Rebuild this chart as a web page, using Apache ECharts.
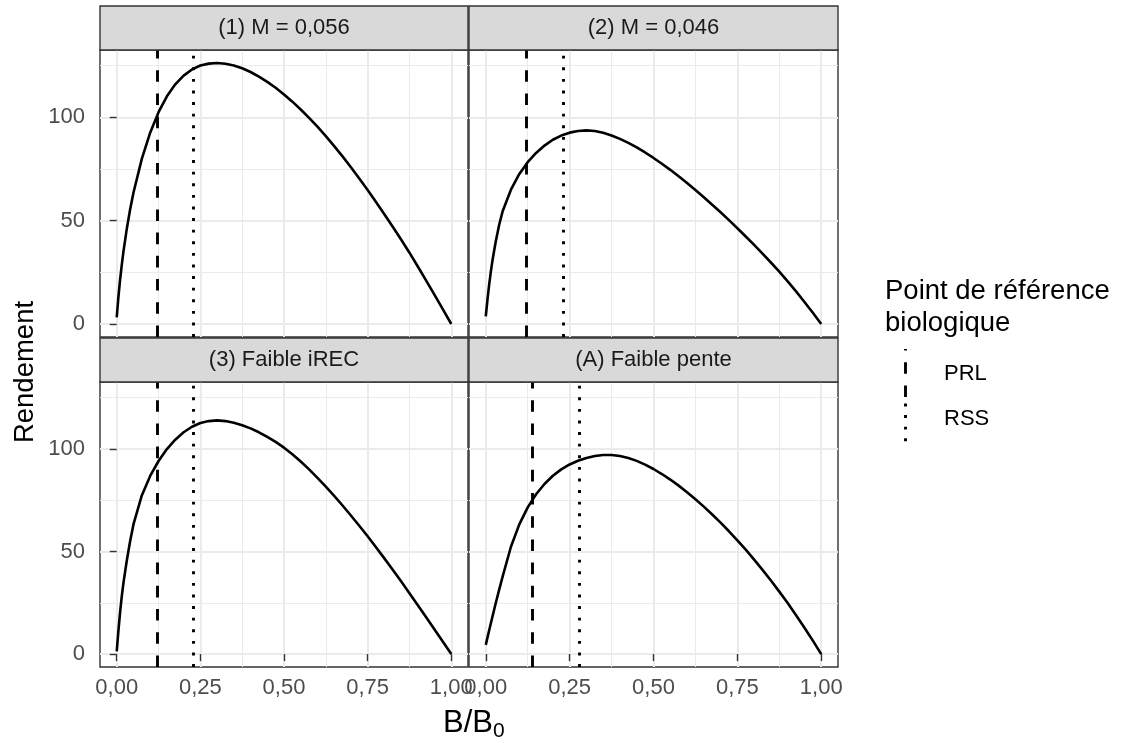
<!DOCTYPE html>
<html>
<head>
<meta charset="utf-8">
<script src="https://cdn.jsdelivr.net/npm/echarts@6/dist/echarts.min.js"></script>
<style>
  html, body { margin: 0; padding: 0; background: #ffffff; }
  #chart { width: 1130px; height: 744px; }
</style>
</head>
<body>
<div id="chart"></div>
<script>
// Facet titles, one per panel
const panelTitles = ['(1) M = 0,056', '(2) M = 0,046', '(3) Faible iREC', '(A) Faible pente'];

// Relative biomass B/B0 at which the yield curves are sampled
const depletion = [0, 0.005, 0.01, 0.015, 0.02, 0.03, 0.04, 0.05, 0.075, 0.1, 0.125, 0.15, 0.175, 0.2,
  0.225, 0.25, 0.275, 0.3, 0.325, 0.35, 0.375, 0.4, 0.425, 0.45, 0.475, 0.5, 0.525, 0.55, 0.575, 0.6,
  0.625, 0.65, 0.675, 0.7, 0.725, 0.75, 0.775, 0.8, 0.825, 0.85, 0.875, 0.9, 0.925, 0.95, 0.975, 1.0];

// Yield (Rendement) per panel
const yieldM056 = [3.2, 13, 21.3, 28.5, 34.9, 46, 55.4, 63.5, 79.9, 92.6, 102.5, 110.2, 116, 120.2,
  123.2, 125.1, 126.0, 126.3, 125.95, 125.1, 123.75, 121.95, 119.75, 117.2, 114.3, 111.1, 107.6, 103.82, 99.77, 95.47,
  90.92, 86.12, 81.1, 75.87, 70.45, 64.85, 59.08, 53.15, 47.07, 40.85, 34.5, 27.8, 21.0, 14.1, 7.1, 0];
const yieldM046 = [3.7, 11.7, 18.9, 25.2, 30.8, 40.2, 48.0, 54.4, 65, 72.6, 78.3, 82.8, 86.35, 89.15,
  91.2, 92.6, 93.4, 93.7, 93.4, 92.55, 91.25, 89.6, 87.65, 85.45, 83.0, 80.35, 77.55, 74.6, 71.5, 68.25,
  64.85, 61.35, 57.75, 54.05, 50.25, 46.35, 42.35, 38.25, 34.05, 29.75, 25.35, 20.65, 15.75, 10.65, 5.4, 0];
const yieldLowRec = [1.3, 11.3, 20.3, 28, 34.6, 45.5, 55, 63.2, 77.3, 86.8, 94.1, 99.9, 104.5, 108.1,
  110.8, 112.6, 113.55, 113.9, 113.55, 112.75, 111.55, 110.0, 108.1, 105.9, 103.4, 100.6, 97.4, 93.85, 90.0, 85.9,
  81.6, 77.1, 72.4, 67.55, 62.55, 57.4, 52.1, 46.65, 41.1, 35.45, 29.7, 23.85, 17.95, 12.0, 6.0, 0];
const yieldLowSlope = [4.5, 8.0, 11.5, 14.9, 18.3, 25.0, 31.4, 37.6, 52.3, 63.2, 71.5, 77.9, 82.9, 86.9,
  90.0, 92.4, 94.2, 95.6, 96.55, 97.05, 97.0, 96.5, 95.55, 94.15, 92.35, 90.2, 87.75, 85.05, 82.1, 78.9,
  75.45, 71.85, 68.05, 64.05, 59.85, 55.45, 50.85, 46.05, 41.05, 35.85, 30.45, 24.85, 18.95, 12.85, 6.55, 0];
const panelYields = [yieldM056, yieldM046, yieldLowRec, yieldLowSlope];

// Biological reference points per panel (B/B0)
const prlValues = [0.117, 0.117, 0.117, 0.142];
const rssValues = [0.234, 0.234, 0.234, 0.284];
const legendLabels = ['PRL', 'RSS'];

// Axis ticks
const xTickValues = [0, 0.25, 0.5, 0.75, 1];
const xTickLabels = ['0,00', '0,25', '0,50', '0,75', '1,00'];
const xMinorValues = [0.125, 0.375, 0.625, 0.875];
const yTickValues = [0, 50, 100];
const yTickLabels = ['0', '50', '100'];
const yMinorValues = [25, 75, 125];

const FONT = '"Liberation Sans", Arial, Helvetica, sans-serif';
const X_RANGE = [-0.05, 1.05];
const Y_RANGE = [-6.3, 132.6];

// Panel rectangles (2 x 2 facets)
const panelBoxes = [
  { left: 100, top: 50,  width: 368, height: 287 },
  { left: 469, top: 50,  width: 369, height: 287 },
  { left: 100, top: 382, width: 368, height: 285 },
  { left: 469, top: 382, width: 369, height: 285 }
];
const STRIP_H = 44;

const grids = [], xAxes = [], yAxes = [], series = [], graphics = [];

panelBoxes.forEach((box, i) => {
  const isBottom = i >= 2;
  const isLeft = i % 2 === 0;
  grids.push({
    left: box.left, top: box.top, width: box.width, height: box.height,
    show: true, backgroundColor: '#ffffff', borderColor: '#333333', borderWidth: 1.4,
    containLabel: false, z: 0
  });
  // major x axis: ticks, labels, major grid lines
  xAxes.push({
    type: 'value', gridIndex: i, min: X_RANGE[0], max: X_RANGE[1],
    axisLine: { show: false },
    axisTick: { show: isBottom, customValues: xTickValues, length: 7, lineStyle: { color: '#333333', width: 1.4 } },
    axisLabel: {
      show: isBottom, customValues: xTickValues, margin: 10,
      fontSize: 22, color: '#4D4D4D', fontFamily: FONT,
      formatter: v => xTickLabels[xTickValues.findIndex(t => Math.abs(t - v) < 1e-9)]
    },
    splitLine: { show: true, lineStyle: { color: '#EBEBEB', width: 2 } },
    z: 1
  });
  // minor x grid lines
  xAxes.push({
    type: 'value', gridIndex: i, min: X_RANGE[0], max: X_RANGE[1],
    axisLine: { show: false },
    axisTick: { show: false, customValues: xMinorValues },
    axisLabel: { show: false, customValues: xMinorValues },
    splitLine: { show: true, lineStyle: { color: '#EBEBEB', width: 1 } },
    z: 1
  });
  yAxes.push({
    type: 'value', gridIndex: i, min: Y_RANGE[0], max: Y_RANGE[1],
    axisLine: { show: false },
    axisTick: { show: isLeft, customValues: yTickValues, length: 7, lineStyle: { color: '#333333', width: 1.4 } },
    axisLabel: {
      show: isLeft, customValues: yTickValues, margin: 15,
      fontSize: 22, color: '#4D4D4D', fontFamily: FONT,
      formatter: v => yTickLabels[yTickValues.indexOf(v)]
    },
    splitLine: { show: true, lineStyle: { color: '#EBEBEB', width: 2 } },
    z: 1
  });
  yAxes.push({
    type: 'value', gridIndex: i, min: Y_RANGE[0], max: Y_RANGE[1],
    axisLine: { show: false },
    axisTick: { show: false, customValues: yMinorValues },
    axisLabel: { show: false, customValues: yMinorValues },
    splitLine: { show: true, lineStyle: { color: '#EBEBEB', width: 1 } },
    z: 1
  });

  series.push({
    type: 'line',
    xAxisIndex: 2 * i, yAxisIndex: 2 * i,
    data: depletion.map((d, k) => [d, panelYields[i][k]]),
    showSymbol: false, smooth: false,
    lineStyle: { color: '#000000', width: 2.6, join: 'round' },
    z: 5,
    markLine: {
      silent: true, symbol: ['none', 'none'], label: { show: false },
      animation: false,
      data: [
        { xAxis: prlValues[i], lineStyle: { color: '#000000', width: 2.9, type: [11.6, 11.6] } },
        { xAxis: rssValues[i], lineStyle: { color: '#000000', width: 2.9, type: [2.9, 8.7] } }
      ]
    }
  });

  // facet strip
  graphics.push({
    type: 'rect', z: 10,
    shape: { x: box.left, y: box.top - STRIP_H, width: box.width, height: STRIP_H },
    style: { fill: '#D9D9D9', stroke: '#333333', lineWidth: 1.4 }
  });
  graphics.push({
    type: 'text', z: 11,
    x: box.left + box.width / 2, y: box.top - STRIP_H / 2,
    style: { text: panelTitles[i], align: 'center', verticalAlign: 'middle', fontSize: 22, fontFamily: FONT, fill: '#1A1A1A' }
  });
});

// axis titles
graphics.push({
  type: 'text', z: 11, x: 25, y: 372, rotation: Math.PI / 2,
  style: { text: 'Rendement', align: 'center', verticalAlign: 'middle', fontSize: 27.5, fontFamily: FONT, fill: '#000000' }
});
graphics.push({
  type: 'text', z: 11, x: 493, y: 723,
  style: { text: 'B/B', align: 'right', verticalAlign: 'middle', fontSize: 31, fontFamily: FONT, fill: '#000000' }
});
graphics.push({
  type: 'text', z: 11, x: 493, y: 731,
  style: { text: '0', align: 'left', verticalAlign: 'middle', fontSize: 21, fontFamily: FONT, fill: '#000000' }
});

// legend
graphics.push({
  type: 'text', z: 11, x: 885, y: 291,
  style: { text: 'Point de référence', align: 'left', verticalAlign: 'middle', fontSize: 27.5, fontFamily: FONT, fill: '#000000' }
});
graphics.push({
  type: 'text', z: 11, x: 885, y: 323,
  style: { text: 'biologique', align: 'left', verticalAlign: 'middle', fontSize: 27.5, fontFamily: FONT, fill: '#000000' }
});
graphics.push({
  type: 'line', z: 11, shape: { x1: 905.5, y1: 349, x2: 905.5, y2: 397 },
  style: { stroke: '#000000', lineWidth: 2.9, lineDash: [11.6, 11.6], lineDashOffset: 10 }
});
graphics.push({
  type: 'line', z: 11, shape: { x1: 905.5, y1: 403.5, x2: 905.5, y2: 445 },
  style: { stroke: '#000000', lineWidth: 2.9, lineDash: [2.9, 8.7] }
});
legendLabels.forEach((lab, k) => {
  graphics.push({
    type: 'text', z: 11, x: 944, y: 374 + 45 * k,
    style: { text: lab, align: 'left', verticalAlign: 'middle', fontSize: 22, fontFamily: FONT, fill: '#000000' }
  });
});

const chart = echarts.init(document.getElementById('chart'), null, { renderer: 'canvas' });
chart.setOption({
  animation: false,
  backgroundColor: '#ffffff',
  grid: grids,
  xAxis: xAxes,
  yAxis: yAxes,
  series: series,
  graphic: graphics
});
</script>
</body>
</html>
